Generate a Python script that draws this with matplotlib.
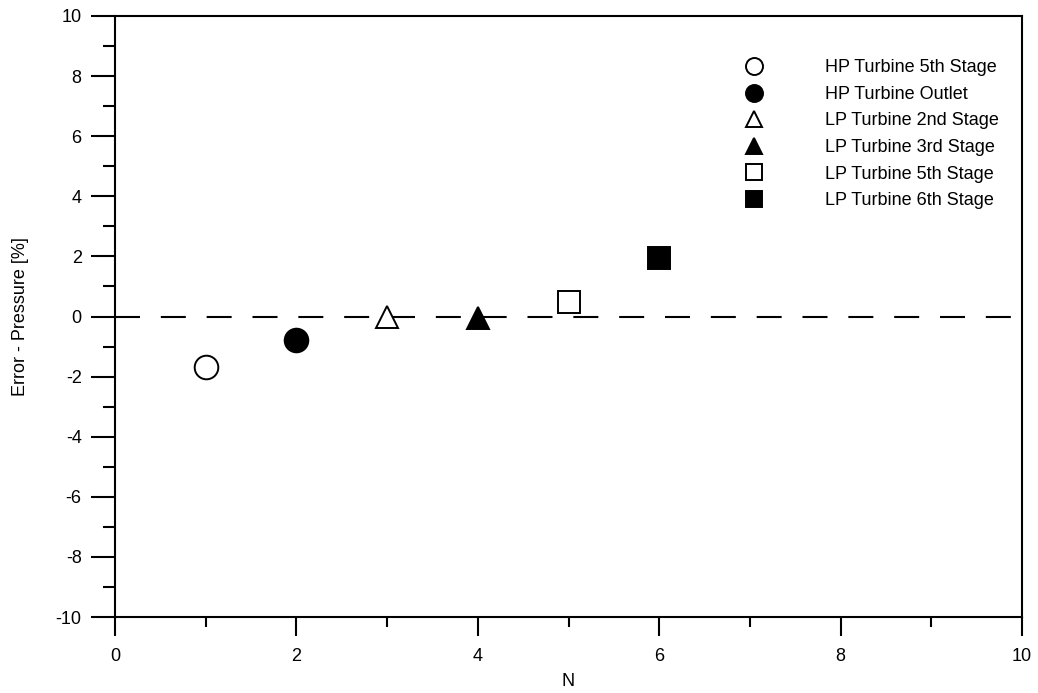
import matplotlib

matplotlib.use("Agg")
import matplotlib.pyplot as plt

# one point per measurement location
labels = [
    "HP Turbine 5th Stage",
    "HP Turbine Outlet",
    "LP Turbine 2nd Stage",
    "LP Turbine 3rd Stage",
    "LP Turbine 5th Stage",
    "LP Turbine 6th Stage",
]
n_values = [1, 2, 3, 4, 5, 6]
errors = [-1.68, -0.78, 0.0, -0.05, 0.48, 1.95]
markers = ["o", "o", "^", "^", "s", "s"]
filled = [False, True, False, True, False, True]
marker_sizes = {"o": 17, "^": 16, "s": 16}

plt.rcParams["font.family"] = ["Liberation Sans", "DejaVu Sans"]
plt.rcParams["lines.scale_dashes"] = False
plt.rcParams["axes.unicode_minus"] = False

fig = plt.figure(figsize=(10.38, 6.93), dpi=100)
ax = fig.add_axes([115 / 1038, 1 - 617 / 693, 907 / 1038, 601 / 693])

ax.axhline(0, color="black", linewidth=1.5, dashes=(18, 15))

for n, err, lab, m, f in zip(n_values, errors, labels, markers, filled):
    ax.plot(
        [n], [err], linestyle="none", marker=m, markersize=marker_sizes[m],
        markerfacecolor="black" if f else "white",
        markeredgecolor="black", markeredgewidth=1.4, label=lab,
    )

ax.set_xlim(0, 10)
ax.set_ylim(-10, 10)
ax.set_xticks(range(0, 11, 2))
ax.set_xticks(range(1, 10, 2), minor=True)
ax.set_yticks(range(-10, 11, 2))
ax.set_yticks(range(-9, 10, 2), minor=True)
ax.tick_params(axis="y", which="major", direction="out", length=17, width=1.5, labelsize=13, pad=7)
ax.tick_params(axis="y", which="minor", direction="out", length=9, width=1.5)
ax.tick_params(axis="x", which="major", direction="out", length=14, width=1.5, labelsize=13, pad=8)
ax.tick_params(axis="x", which="minor", direction="out", length=7, width=1.5)
for spine in ax.spines.values():
    spine.set_linewidth(1.5)

ax.set_xlabel("N", fontsize=13, labelpad=6)
ax.set_ylabel("Error - Pressure [%]", fontsize=13, labelpad=19)

ax.legend(
    loc="upper left", bbox_to_anchor=(0.677, 0.955), frameon=False, fontsize=13,
    markerscale=0.72, handlelength=1.0, handletextpad=3.4, labelspacing=0.53,
)

fig.savefig("out.png", dpi=100)
